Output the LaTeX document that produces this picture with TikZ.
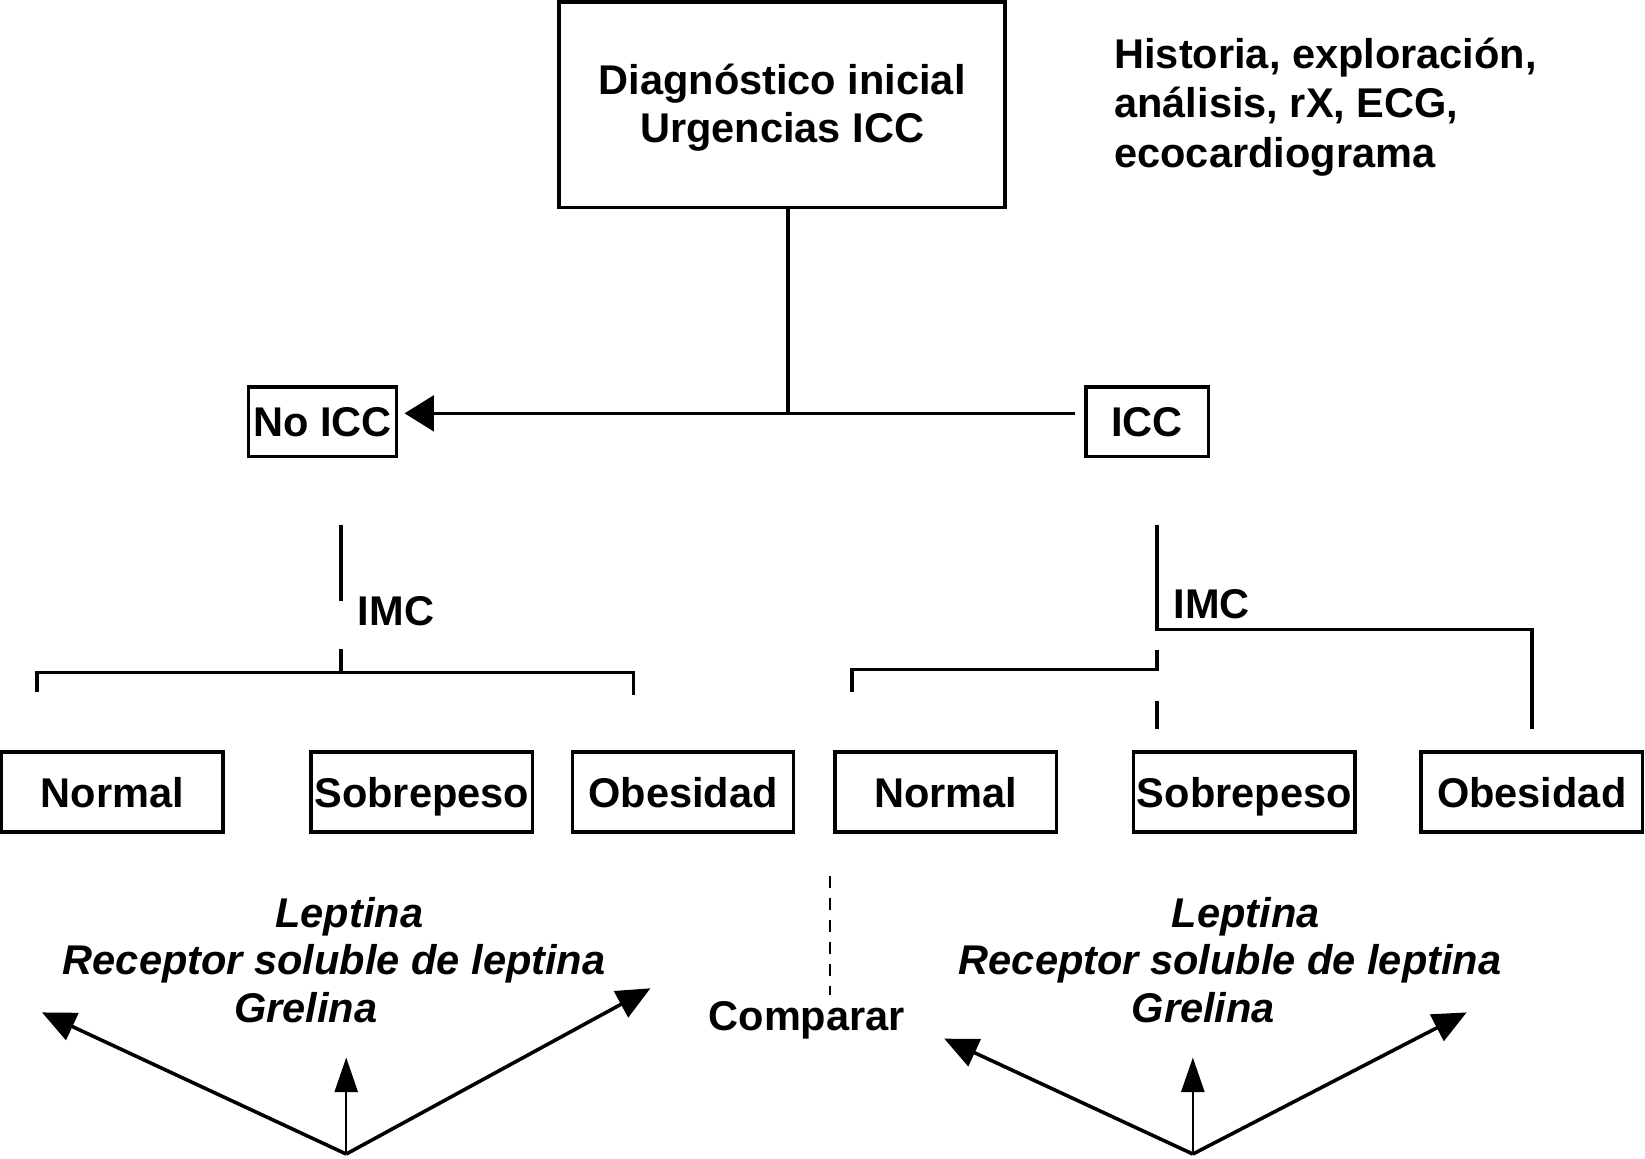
\documentclass[tikz,border=0pt]{standalone}
\usepackage{fontspec}
\setmainfont{Liberation Sans}
\usetikzlibrary{arrows.meta}
\begin{document}
\begin{tikzpicture}[x=1pt,y=-1pt,
  lbl/.style={font=\fontsize{39.6}{47}\selectfont\bfseries, inner sep=0pt, text height=28.5pt, text depth=0pt},
  itl/.style={lbl, font=\fontsize{39.6}{47}\selectfont\bfseries\itshape},
  box/.style={lbl, draw, line width=3.3pt, minimum height=66pt},
  boxb/.style={box, minimum width=211pt, minimum height=76pt},
  wire/.style={line width=3.4pt},
  thinwire/.style={line width=2.4pt},
  bigtip/.style={-{Triangle[length=32pt,width=28pt]}},
  uptip/.style={-{Triangle[length=33pt,width=22pt]}},
]
\useasboundingbox (0,0) rectangle (1568,1104);
% top
\node[draw, line width=3.3pt, minimum width=425pt, minimum height=196pt, align=center,
      font=\fontsize{39.6}{46}\selectfont\bfseries, inner sep=0pt, text height=84pt, text depth=12pt] (top) at (745.5,100)
      {Diagnóstico inicial\\Urgencias ICC};
\node[anchor=west, align=left, font=\fontsize{39.6}{47}\selectfont\bfseries, inner sep=0pt] (hist) at (1062,102)
      {Historia, exploración,\\análisis, rX, ECG,\\ecocardiograma};
% second level
\node[box, minimum width=141pt] (noicc) at (307.5,402) {No ICC};
\node[box, minimum width=117pt] (icc) at (1093.5,402) {ICC};
\coordinate (iccl) at (1025,394);
\coordinate (j1) at ([xshift=5.5pt]top.south);
\coordinate (j0) at (j1 |- iccl);
\draw[wire] (j1) -- (j0);
\draw[wire, -{Triangle[length=28pt,width=34pt]}, shorten >=6pt] (iccl) -- (noicc.east |- iccl);
% left IMC
\coordinate (la) at (325,500);
\coordinate (lb) at (325,573);
\coordinate (lc) at (325,619);
\coordinate (ld) at (325,641);
\coordinate (lL) at (35,660);
\coordinate (lR) at (604,662);
\node[lbl] (imcl) at (377.5,582) {IMC};
\draw[wire] (la) -- (lb);
\draw[wire] (lL) |- (lc |- ld) -| (lR);
\draw[wire] (lc) -- (ld);
% right IMC
\coordinate (ra) at (1103,500);
\coordinate (rb) at (1103,600);
\coordinate (rR) at (1460,695);
\coordinate (rc) at (1103,620);
\coordinate (rd) at (1103,638);
\coordinate (rL) at (812,660);
\coordinate (re) at (1103,668);
\coordinate (rf) at (1103,695);
\node[lbl] (imcr) at (1155,575) {IMC};
\draw[wire] (ra) -- (rb) -| (rR);
\draw[wire] (rc) -- (rd) -| (rL);
\draw[wire] (re) -- (rf);
% bottom boxes
\node[boxb] (nl) at (107,755) {Normal};
\node[boxb] (sl) at (402,755) {Sobrepeso};
\node[boxb] (ol) at (651,755) {Obesidad};
\node[boxb] (nr) at (901.5,755) {Normal};
\node[boxb] (sr) at (1186,755) {Sobrepeso};
\node[boxb] (or) at (1460,755) {Obesidad};
% compare
\coordinate (da) at (791,835);
\coordinate (db) at (791,948);
\draw[thinwire, dash pattern=on 11pt off 10pt] (da) -- (db);
\node[lbl] (comp) at (769,968) {Comparar};
% markers
\node[itl] (lep1) at (333,870) {Leptina};
\node[itl] (rec1) at (318.5,915) {Receptor soluble de leptina};
\node[itl] (gre1) at (291.5,960) {Grelina};
\node[itl] (lep2) at (1187.5,870) {Leptina};
\node[itl] (rec2) at (1172.5,915) {Receptor soluble de leptina};
\node[itl] (gre2) at (1147,960) {Grelina};
% arrows
\coordinate (lo) at (330,1100);
\coordinate (lt1) at (40,965);
\coordinate (lt2) at (330,1008);
\coordinate (lt3) at (620,942);
\draw[wire, bigtip] (lo) -- (lt1);
\draw[thinwire, uptip] (lo) -- (lt2);
\draw[wire, bigtip] (lo) -- (lt3);
\coordinate (ro) at (1137,1100);
\coordinate (rt1) at (900,990);
\coordinate (rt2) at (1137,1008);
\coordinate (rt3) at (1398,965);
\draw[wire, bigtip] (ro) -- (rt1);
\draw[thinwire, uptip] (ro) -- (rt2);
\draw[wire, bigtip] (ro) -- (rt3);
\end{tikzpicture}
\end{document}
